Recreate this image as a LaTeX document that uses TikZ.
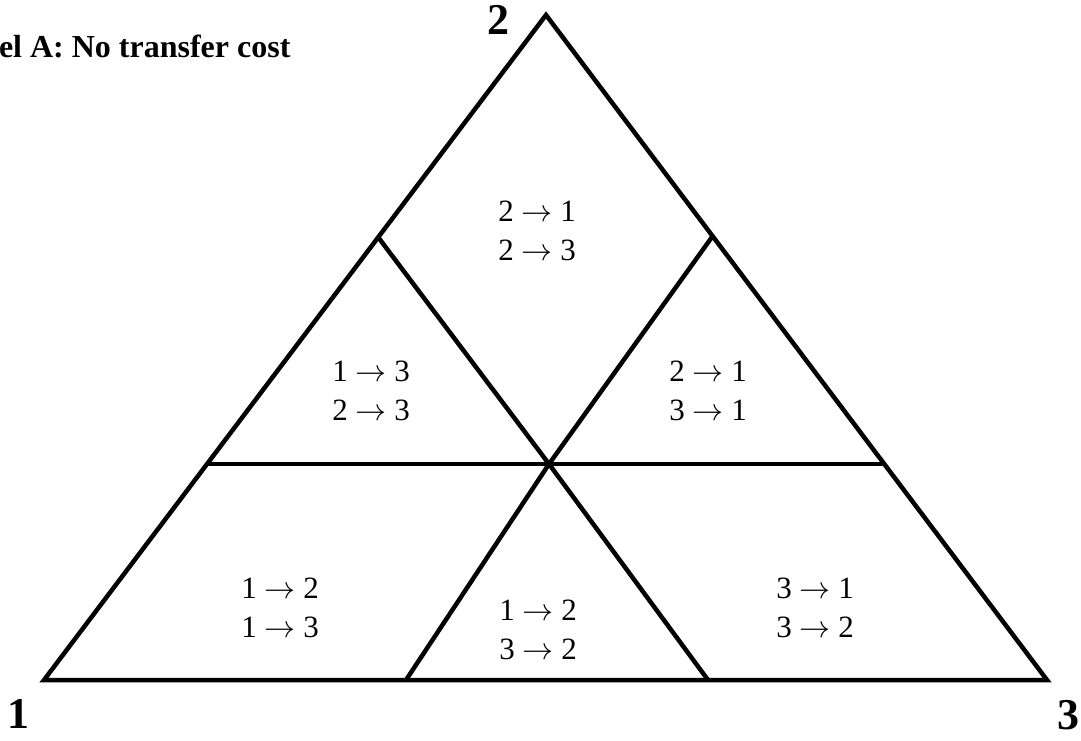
\RequirePackage{fix-cm}
\documentclass[tikz,border=0pt]{standalone}
\usepackage{fontspec}
\setmainfont{Liberation Serif}
\begin{document}
\begin{tikzpicture}[
    x=1pt, y=-1pt,
    edge/.style={line width=4.5pt, line join=miter, line cap=butt},
    flow/.style={align=center, font=\fontsize{31}{39}\selectfont},
    corner/.style={font=\fontsize{44}{44}\selectfont\bfseries, anchor=base}
]
    \clip (0,0) rectangle (1081,740);
    \useasboundingbox (0,0) rectangle (1081,740);

    % vertices of the simplex
    \coordinate (V1) at (44,680);
    \coordinate (V2) at (546,15);
    \coordinate (V3) at (1047,680);
    \coordinate (C) at (549,464);

    % points on the sides
    \coordinate (L1) at (206,464);
    \coordinate (R1) at (886,464);
    \coordinate (L2) at (378,237);
    \coordinate (R2) at (712,237);
    \coordinate (B1) at (406,680);
    \coordinate (B2) at (708,680);

    \draw[edge] (V1) -- (V2) -- (V3) -- cycle;
    \draw[edge] (L1) -- (R1);
    \draw[edge] (L2) -- (C);
    \draw[edge] (R2) -- (C);
    \draw[edge] (B1) -- (C);
    \draw[edge] (B2) -- (C);

    \node[corner] (n1) at (18,728) {1};
    \node[corner] (n2) at (498,34) {2};
    \node[corner] (n3) at (1068,729) {3};

    \node[anchor=base east, font=\fontsize{32}{32}\selectfont\bfseries] (title) at (294,57) {Panel A: No transfer cost};

    \node[flow] (top) at (537,231) {2 $\rightarrow$ 1\\2 $\rightarrow$ 3};
    \node[flow] (left) at (371,391) {1 $\rightarrow$ 3\\2 $\rightarrow$ 3};
    \node[flow] (right) at (708,391) {2 $\rightarrow$ 1\\3 $\rightarrow$ 1};
    \node[flow] (botl) at (280,608) {1 $\rightarrow$ 2\\1 $\rightarrow$ 3};
    \node[flow] (botm) at (538,630) {1 $\rightarrow$ 2\\3 $\rightarrow$ 2};
    \node[flow] (botr) at (815,608) {3 $\rightarrow$ 1\\3 $\rightarrow$ 2};
\end{tikzpicture}
\end{document}
